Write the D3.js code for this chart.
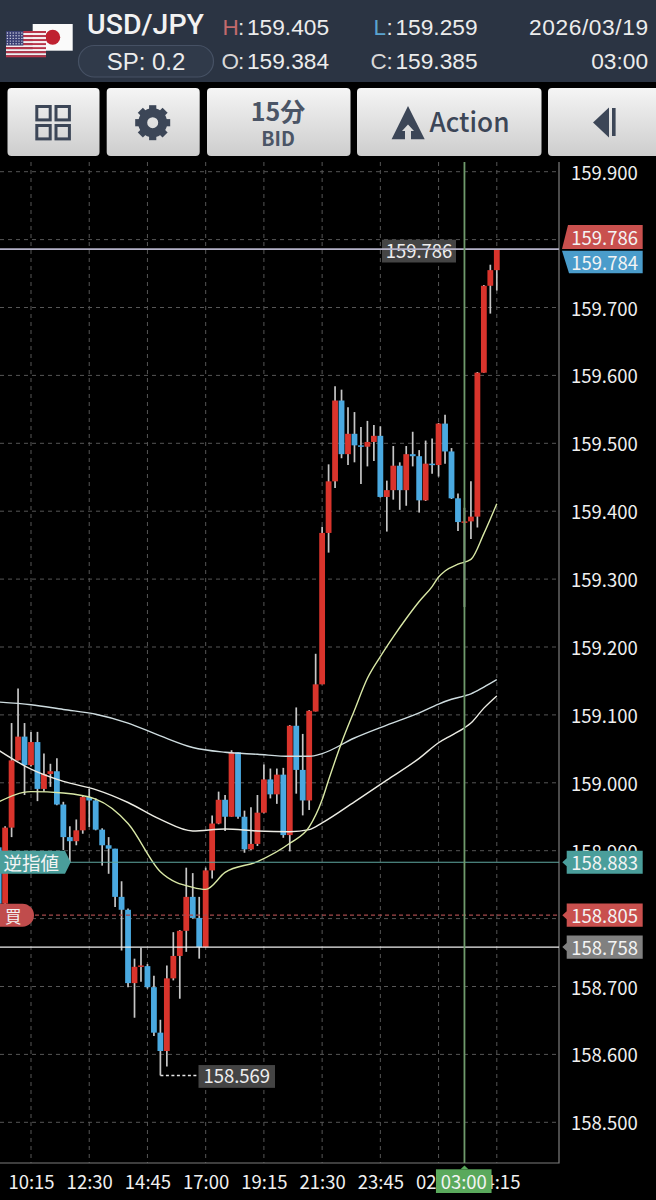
<!DOCTYPE html>
<html>
<head>
<meta charset="utf-8">
<script src="https://cdn.jsdelivr.net/npm/d3@7"></script>
<style>
  html, body { margin: 0; padding: 0; background: #000; }
  svg { display: block; }
</style>
</head>
<body>
<svg id="chart" width="656" height="1200"></svg>
<script>
// USD/JPY 15-minute candles; the first bar sits five slots before the 10:15 tick.
const firstSlot = -5;
const opens = [158.905,158.822,158.934,159.033,159.068,159.026,159.060,158.991,159.013,159.017,158.968,158.920,158.914,158.930,158.979,158.974,158.931,158.908,158.903,158.832,158.813,158.705,158.730,158.730,158.699,158.632,158.605,158.712,158.745,158.782,158.832,158.801,158.758,158.871,158.940,158.975,158.950,159.045,158.950,158.902,158.910,158.956,159.005,158.983,159.012,158.923,159.084,159.019,158.974,159.105,159.145,159.368,159.444,159.563,159.484,159.514,159.497,159.495,159.502,159.511,159.421,159.431,159.467,159.431,159.484,159.481,159.416,159.470,159.468,159.529,159.488,159.419,159.384,159.385,159.392,159.604,159.732,159.755];
const closes = [158.822,158.934,159.033,159.068,159.026,159.060,158.991,159.013,159.017,158.968,158.920,158.914,158.930,158.979,158.974,158.931,158.908,158.903,158.832,158.813,158.705,158.729,158.731,158.699,158.632,158.605,158.712,158.745,158.782,158.832,158.801,158.758,158.871,158.940,158.975,158.950,159.045,158.950,158.902,158.910,158.956,159.005,158.983,159.012,158.923,159.084,159.019,158.974,159.106,159.145,159.368,159.444,159.563,159.484,159.514,159.497,159.495,159.502,159.511,159.421,159.431,159.467,159.431,159.484,159.481,159.416,159.470,159.468,159.529,159.488,159.419,159.384,159.385,159.392,159.604,159.732,159.755,159.786];
const highs = [158.905,158.936,159.088,159.139,159.088,159.075,159.075,159.043,159.028,159.036,158.972,158.936,158.946,158.982,158.991,158.977,158.933,158.920,158.903,158.855,158.815,158.741,158.757,158.733,158.716,158.651,158.731,158.780,158.783,158.875,158.867,158.832,158.875,158.952,158.987,158.982,159.048,159.045,158.959,158.964,158.982,159.027,159.021,159.021,159.022,159.085,159.111,159.072,159.107,159.190,159.377,159.469,159.584,159.579,159.553,159.546,159.524,159.533,159.527,159.525,159.445,159.496,159.472,159.496,159.517,159.490,159.504,159.507,159.530,159.542,159.493,159.426,159.405,159.444,159.605,159.733,159.763,159.786];
const lows = [158.820,158.820,158.920,159.033,158.982,159.024,158.973,158.987,158.994,158.967,158.901,158.883,158.908,158.925,158.935,158.930,158.878,158.866,158.817,158.753,158.699,158.654,158.707,158.697,158.627,158.569,158.582,158.709,158.682,158.751,158.800,158.741,158.758,158.859,158.939,158.929,158.950,158.947,158.897,158.901,158.907,158.955,158.977,158.969,158.919,158.899,158.984,158.952,158.960,159.105,159.145,159.339,159.434,159.478,159.468,159.472,159.440,159.466,159.474,159.420,159.370,159.417,159.402,159.408,159.466,159.398,159.415,159.455,159.451,159.470,159.418,159.371,159.259,159.359,159.376,159.604,159.691,159.725];

// Moving averages, read at the slots listed in their index arrays.
const slowSlots = [-5,0,5,10,15,20,25,30,35,40,43,45,50,55,60,63,65,67,68,70,72];
const upperAverage = [159.119,159.115,159.108,159.101,159.088,159.069,159.052,159.045,159.042,159.039,159.039,159.043,159.066,159.085,159.103,159.116,159.123,159.128,159.131,159.141,159.152];
const lowerAverage = [159.048,159.020,159.002,158.990,158.971,158.946,158.929,158.932,158.929,158.928,158.931,158.941,158.972,159.004,159.036,159.059,159.070,159.081,159.088,159.110,159.128];
const fastSlots = [-5,0,5,10,15,20,25,27,30,35,40,43,45,46,48,50,52,54,56,58,60,62,63,64,66,68,70,72];
const fastAverage = [158.972,158.987,158.985,158.976,158.940,158.869,158.846,158.843,158.868,158.884,158.911,158.935,158.975,159.004,159.059,159.107,159.154,159.186,159.215,159.242,159.267,159.289,159.303,159.312,159.322,159.329,159.367,159.411];

// Axis ticks: every level gets a grid line, the two covered by badges get no label.
const priceTicks = [158.5,158.6,158.7,158.8,158.9,159.0,159.1,159.2,159.3,159.4,159.5,159.6,159.7,159.8,159.9];
const priceLabels = [158.5,158.6,158.7,158.9,159.0,159.1,159.2,159.3,159.4,159.5,159.6,159.7,159.9];
const timeSlots = [0,9,18,27,36,45,54,63,72];
const timeLabels = ["10:15","12:30","14:45","17:00","19:15","21:30","23:45","02:00","04:15"];

// Price markers
const askPrice = 159.786, bidPrice = 159.784;
const stopPrice = 158.883, buyPrice = 158.805, refPrice = 158.758;
const crosshairSlot = 67, crosshairLabel = "03:00";

// Header quote
const pair = "USD/JPY", spread = "SP: 0.2";
const quote = { H: "159.405", L: "159.259", O: "159.384", C: "159.385" };
const stamp = ["2026/03/19", "03:00"];

const UI = "'Liberation Sans', sans-serif";
const CJK = "'Noto Sans CJK JP', sans-serif";
const svg = d3.select("#chart");
const defs = svg.append("defs");

const plot = { left: 0, right: 559, top: 162, bottom: 1163 };
const x = d3.scaleLinear().domain([0, 72]).range([31, 496.8]);
const y = d3.scaleLinear().domain([158.5, 159.9]).range([1122.3, 171.7]);
const fmt = d3.format(".3f");

svg.append("rect").attr("width", 656).attr("height", 1200).attr("fill", "#000");

/* ---------- header bar ---------- */
const head = svg.append("g");
head.append("rect").attr("width", 656).attr("height", 82).attr("fill", "#2b3443");

// Japanese flag behind the US flag
head.append("rect").attr("x", 32.7).attr("y", 24).attr("width", 40).attr("height", 26.7).attr("fill", "#fafafa");
head.append("circle").attr("cx", 52.7).attr("cy", 37.3).attr("r", 7.5).attr("fill", "#bf2130");
d3.range(13).forEach(k => head.append("rect")
  .attr("x", 6).attr("y", 31 + k * 2.02).attr("width", 40).attr("height", 2.02)
  .attr("fill", k % 2 ? "#f4eef0" : "#b8354a"));
head.append("rect").attr("x", 6).attr("y", 31).attr("width", 17.3).attr("height", 14.5).attr("fill", "#3a3f73");
d3.range(5).forEach(r => d3.range(6).forEach(c => head.append("circle")
  .attr("cx", 7.4 + c * 2.9).attr("cy", 33 + r * 2.7).attr("r", 0.7).attr("fill", "#d8dae8")));

head.append("text").text(pair).attr("x", 87).attr("y", 34)
  .attr("font-family", "Roboto, sans-serif").attr("font-size", 27).attr("font-weight", 500).attr("fill", "#f2f2f2")
  .attr("textLength", 117).attr("lengthAdjust", "spacingAndGlyphs");
head.append("rect").attr("x", 78.5).attr("y", 45.5).attr("width", 135).attr("height", 31.5).attr("rx", 15.7)
  .attr("fill", "#303a4a").attr("stroke", "#465164").attr("stroke-width", 1.2);
head.append("text").text(spread).attr("x", 146).attr("y", 70).attr("text-anchor", "middle")
  .attr("font-family", UI).attr("font-size", 24).attr("fill", "#ececec");

[["H", 222.5, 35, 247, "#c26a6c"], ["L", 373.5, 35, 395.5, "#5aa3cf"],
 ["O", 221.5, 68.5, 247, "#d8d8d8"], ["C", 370.5, 68.5, 395.5, "#d8d8d8"]].forEach(([k, lx, by, vx, col]) => {
  head.append("text").text(k).attr("x", lx).attr("y", by)
    .attr("font-family", UI).attr("font-size", 22.5).attr("fill", col);
  head.append("text").text(":").attr("x", vx - 9).attr("y", by)
    .attr("font-family", UI).attr("font-size", 22.5).attr("fill", "#e4e4e4");
  head.append("text").text(quote[k]).attr("x", vx).attr("y", by)
    .attr("font-family", UI).attr("font-size", 22.7).attr("fill", "#ececec");
});
head.append("text").text(stamp[0]).attr("x", 529).attr("y", 35)
  .attr("font-family", UI).attr("font-size", 22.7).attr("fill", "#ececec")
  .attr("textLength", 119).attr("lengthAdjust", "spacing");
head.append("text").text(stamp[1]).attr("x", 648).attr("y", 68.5).attr("text-anchor", "end")
  .attr("font-family", UI).attr("font-size", 22.7).attr("fill", "#ececec");

/* ---------- toolbar ---------- */
const grad = defs.append("linearGradient").attr("id", "btn").attr("x1", 0).attr("x2", 0).attr("y1", 0).attr("y2", 1);
grad.append("stop").attr("offset", 0).attr("stop-color", "#f5f5f5");
grad.append("stop").attr("offset", 1).attr("stop-color", "#cdcdcd");
const ink = "#3c4657";
const bar = svg.append("g");
[[7.5, 92], [106.7, 93], [207, 143.5], [357, 184.5], [548, 120]].forEach(([bx, bw]) =>
  bar.append("rect").attr("x", bx).attr("y", 88).attr("width", bw).attr("height", 68).attr("rx", 4).attr("fill", "url(#btn)"));

[[36.8, 106.5], [56, 106.5], [36.8, 125.5], [56, 125.5]].forEach(([sx, sy]) =>
  bar.append("rect").attr("x", sx).attr("y", sy).attr("width", 13.4).attr("height", 13.4)
    .attr("fill", "none").attr("stroke", ink).attr("stroke-width", 3));

const gear = bar.append("g").attr("transform", "translate(152.7,122.7)");
d3.range(8).forEach(k => gear.append("rect").attr("x", -3.6).attr("y", -17.5).attr("width", 7.2).attr("height", 8)
  .attr("fill", ink).attr("transform", `rotate(${k * 45})`));
gear.append("circle").attr("r", 10).attr("fill", "none").attr("stroke", ink).attr("stroke-width", 9);

bar.append("text").text("15分").attr("x", 278).attr("y", 120.5).attr("text-anchor", "middle")
  .attr("font-family", CJK).attr("font-size", 25).attr("font-weight", 700).attr("fill", "#4b5566");
bar.append("text").text("BID").attr("x", 278).attr("y", 146).attr("text-anchor", "middle")
  .attr("font-family", CJK).attr("font-size", 19.5).attr("font-weight", 700).attr("fill", "#4b5566");

bar.append("path").attr("fill", ink)
  .attr("d", "M408 106 L424.7 139.3 L411 139.3 L411 131 L414 131 L408 124.5 L402 131 L405 131 L405 139.3 L391.6 139.3 Z");
bar.append("text").text("Action").attr("x", 429.5).attr("y", 131.5)
  .attr("font-family", CJK).attr("font-size", 27).attr("font-weight", 500).attr("fill", ink)
  .attr("textLength", 80).attr("lengthAdjust", "spacingAndGlyphs");

bar.append("path").attr("fill", ink).attr("d", "M593 122.5 L609 107.5 L609 137.5 Z");
bar.append("rect").attr("x", 612).attr("y", 108).attr("width", 3.6).attr("height", 28).attr("fill", ink);

/* ---------- grid ---------- */
const grid = svg.append("g").attr("stroke", "#565656").attr("stroke-width", 1).attr("stroke-dasharray", "4 4");
grid.selectAll("line.h").data(priceTicks).join("line").attr("class", "h")
  .attr("x1", plot.left).attr("x2", plot.right).attr("y1", d => y(d)).attr("y2", d => y(d));
grid.selectAll("line.v").data(timeSlots).join("line").attr("class", "v")
  .attr("x1", d => x(d)).attr("x2", d => x(d)).attr("y1", plot.top).attr("y2", plot.bottom);

/* ---------- axes ---------- */
const priceAxis = d3.axisRight(y).tickValues(priceLabels).tickFormat(fmt).tickSize(0).tickPadding(12);
const gy = svg.append("g").attr("transform", `translate(${plot.right},0)`).call(priceAxis);
const timeAxis = d3.axisBottom(x).tickValues(timeSlots).tickFormat((d, k) => timeLabels[k]).tickSize(0).tickPadding(13);
const gx = svg.append("g").attr("transform", `translate(0,${plot.bottom})`).call(timeAxis);
[gy, gx].forEach(g => {
  g.select(".domain").remove();
  g.selectAll("text").attr("fill", "#f0f0f0").attr("font-family", CJK).attr("font-size", 18.5);
});
gy.selectAll("text").attr("dy", "0.41em");
svg.append("path").attr("fill", "none").attr("stroke", "#7d7d7d").attr("stroke-width", 1.2)
  .attr("d", `M0 ${plot.bottom} H${plot.right} V${plot.top}`);

/* ---------- candles ---------- */
const candles = opens.map((o, k) => ({ slot: firstSlot + k, o, c: closes[k], h: highs[k], l: lows[k] }));
const upColor = "#d9342c", downColor = "#4aa9e0";
const clipId = "plot-clip";
defs.append("clipPath").attr("id", clipId).append("rect")
  .attr("x", plot.left).attr("y", plot.top).attr("width", plot.right).attr("height", plot.bottom - plot.top);
const marks = svg.append("g").attr("clip-path", `url(#${clipId})`);
marks.selectAll("line.wick").data(candles).join("line").attr("class", "wick")
  .attr("x1", d => x(d.slot)).attr("x2", d => x(d.slot))
  .attr("y1", d => y(d.h)).attr("y2", d => y(d.l))
  .attr("stroke", "#c6c6c6").attr("stroke-width", 1.7);
marks.selectAll("rect.body").data(candles).join("rect").attr("class", "body")
  .attr("x", d => x(d.slot) - 2.9).attr("width", 5.8)
  .attr("y", d => Math.min(y(d.o), y(d.c)))
  .attr("height", d => Math.max(1.5, Math.abs(y(d.o) - y(d.c))))
  .attr("fill", d => d.c >= d.o ? upColor : downColor);

/* ---------- moving averages ---------- */
const lineFor = slots => d3.line().x((d, k) => x(slots[k])).y(d => y(d)).curve(d3.curveMonotoneX);
[[upperAverage, slowSlots, "#cfdde0"], [lowerAverage, slowSlots, "#ecece4"], [fastAverage, fastSlots, "#d9e8a6"]].forEach(([vals, slots, col]) =>
  marks.append("path").attr("d", lineFor(slots)(vals)).attr("fill", "none").attr("stroke", col).attr("stroke-width", 1.4));

/* ---------- tags under the price line ---------- */
const under = svg.append("g").attr("font-family", CJK);
const chip = (layer, p, label, bx, bw, lift) => {
  const c = y(p) + lift;
  layer.append("rect").attr("x", bx).attr("y", c - 11.4).attr("width", bw).attr("height", 22.8).attr("fill", "#444");
  layer.append("text").text(label).attr("x", bx + bw / 2).attr("y", c + 6.7).attr("text-anchor", "middle")
    .attr("font-size", 18.5).attr("fill", "#eee");
};
chip(under, askPrice, fmt(askPrice), 382, 74, 2);

/* ---------- price and order lines ---------- */
const levels = svg.append("g");
const level = (p, col, w, dash) => levels.append("line").attr("x1", 0).attr("x2", plot.right)
  .attr("y1", y(p)).attr("y2", y(p)).attr("stroke", col).attr("stroke-width", w).attr("stroke-dasharray", dash || null);
level(stopPrice, "#5fa7a0", 1.2);
level(buyPrice, "#a54a4c", 1.2, "4 3");
level(refPrice, "#efefef", 1.4);
level(askPrice, "#b4b2c8", 1.6);

// Crosshair on the selected bar
levels.append("line").attr("x1", x(crosshairSlot)).attr("x2", x(crosshairSlot))
  .attr("y1", plot.top).attr("y2", plot.bottom).attr("stroke", "#6f9a6c").attr("stroke-width", 1.8);

/* ---------- tags ---------- */
const tags = svg.append("g").attr("font-family", CJK).attr("fill", "#f4f4f4");

// Tag beside the low of the visible range
const lowest = d3.min(lows);
const lowSlot = firstSlot + lows.indexOf(lowest);
tags.append("line").attr("x1", x(lowSlot)).attr("x2", 198).attr("y1", y(lowest)).attr("y2", y(lowest))
  .attr("stroke", "#e6e6e6").attr("stroke-width", 1.5).attr("stroke-dasharray", "3 2.5");
chip(tags, lowest, fmt(lowest), 198.5, 76.5, 1);

// Right-hand price badges
const rightBadge = (p, col) => {
  const c = y(p);
  tags.append("path").attr("fill", col)
    .attr("d", `M562.3 ${c} L566.7 ${c - 4} V${c - 11.6} H642.7 V${c + 11.6} H566.7 V${c + 4} Z`);
  tags.append("text").text(fmt(p)).attr("x", 604.7).attr("y", c + 8).attr("text-anchor", "middle").attr("font-size", 18.5);
};
rightBadge(stopPrice, "#4a9e9b");
rightBadge(buyPrice, "#c9504e");
rightBadge(refPrice, "#808080");

const askY = y(askPrice);
tags.append("path").attr("fill", "#c9504e").attr("d", `M568 ${askY - 24} H642.7 V${askY} H562 Z`);
tags.append("text").text(fmt(askPrice)).attr("x", 604.7).attr("y", askY - 4.2).attr("text-anchor", "middle").attr("font-size", 18.5);
tags.append("path").attr("fill", "#4a9ccb").attr("d", `M562 ${askY + 1.6} H642.7 V${askY + 24.2} H569 Z`);
tags.append("text").text(fmt(bidPrice)).attr("x", 604.7).attr("y", askY + 21).attr("text-anchor", "middle").attr("font-size", 18.5);

// Left-hand order tags
const stopY = y(stopPrice), buyY = y(buyPrice);
tags.append("path").attr("fill", "#4a9e9b")
  .attr("d", `M0 ${stopY - 11.5} H65 L70.7 ${stopY} L65 ${stopY + 11.5} H0 Z`);
tags.append("text").text("逆指値").attr("x", 3.5).attr("y", stopY + 7.8).attr("font-size", 18.5);
tags.append("path").attr("fill", "#c04c4c")
  .attr("d", `M0 ${buyY - 11.5} H22.5 A11.5 11.5 0 0 1 22.5 ${buyY + 11.5} H0 Z`);
tags.append("text").text("買").attr("x", 5).attr("y", buyY + 7.5).attr("font-size", 16.5);

// Selected time tag on the time axis
const cx = x(crosshairSlot);
tags.append("path").attr("fill", "#5aa95c").attr("d", `M${cx} 1165.5 L${cx + 4} 1169.3 H${cx - 4} Z`);
tags.append("rect").attr("x", cx - 28.5).attr("y", 1169.3).attr("width", 55.6).attr("height", 23.7).attr("fill", "#5aa95c");
tags.append("text").text(crosshairLabel).attr("x", cx - 0.7).attr("y", 1189).attr("text-anchor", "middle")
  .attr("font-size", 18.5);
</script>
</body>
</html>
